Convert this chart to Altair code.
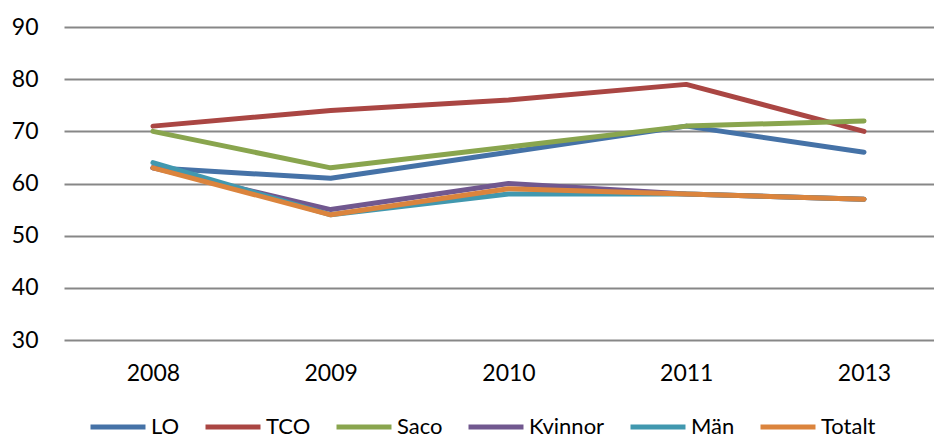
import altair as alt
import pandas as pd

years = ["2008", "2009", "2010", "2011", "2013"]
series_names = ["LO", "TCO", "Saco", "Kvinnor", "Män", "Totalt"]
lo = [63, 61, 66, 71, 66]
tco = [71, 74, 76, 79, 70]
saco = [70, 63, 67, 71, 72]
kvinnor = [63, 55, 60, 58, 57]
man = [64, 54, 58, 58, 57]
totalt = [63, 54, 59, 58, 57]
colors = ["#4572A7", "#AA4643", "#89A54E", "#71588F", "#4198AF", "#DB843D"]
y_ticks = [30, 40, 50, 60, 70, 80, 90]

rows = []
for name, vals in zip(series_names, [lo, tco, saco, kvinnor, man, totalt]):
    for yr, v in zip(years, vals):
        rows.append({"year": yr, "serie": name, "value": v})
df = pd.DataFrame(rows)

FONT = "Lato"
FS = 23

chart = alt.Chart(df).mark_line(
    strokeWidth=5, strokeCap="round", strokeJoin="round"
).encode(
    x=alt.X("year:N", sort=years,
            scale=alt.Scale(type="point", padding=0.447, align=0.5597),
            axis=alt.Axis(title=None, labelAngle=0, ticks=False, domain=False,
                          grid=False, labelPadding=22, labelFontSize=FS,
                          labelFont=FONT, labelColor="#000000")),
    y=alt.Y("value:Q", scale=alt.Scale(domain=[30, 90], nice=False, zero=False),
            axis=alt.Axis(title=None, values=y_ticks, ticks=False, domain=False,
                          grid=True, gridColor="#878787", gridWidth=2,
                          labelPadding=26, labelFontSize=FS, labelFont=FONT,
                          labelColor="#000000")),
    color=alt.Color("serie:N",
                    scale=alt.Scale(domain=series_names, range=colors),
                    legend=alt.Legend(title=None, orient="none", direction="horizontal",
                                      columns=6, legendX=42, legendY=388,
                                      padding=0,
                                      symbolType="M-3,0H3", symbolSize=336,
                                      symbolStrokeWidth=5, symbolStrokeColor=None,
                                      labelFontSize=22,
                                      labelFont=FONT, labelColor="#000000",
                                      labelOffset=21, columnPadding=15)),
    detail="serie:N",
).properties(
    width=870, height=313,
    padding={"left": 3, "top": 8, "right": 0, "bottom": 0},
).configure_view(stroke=None)

chart.save("out.html", embed_options={"renderer": "svg", "actions": False})
